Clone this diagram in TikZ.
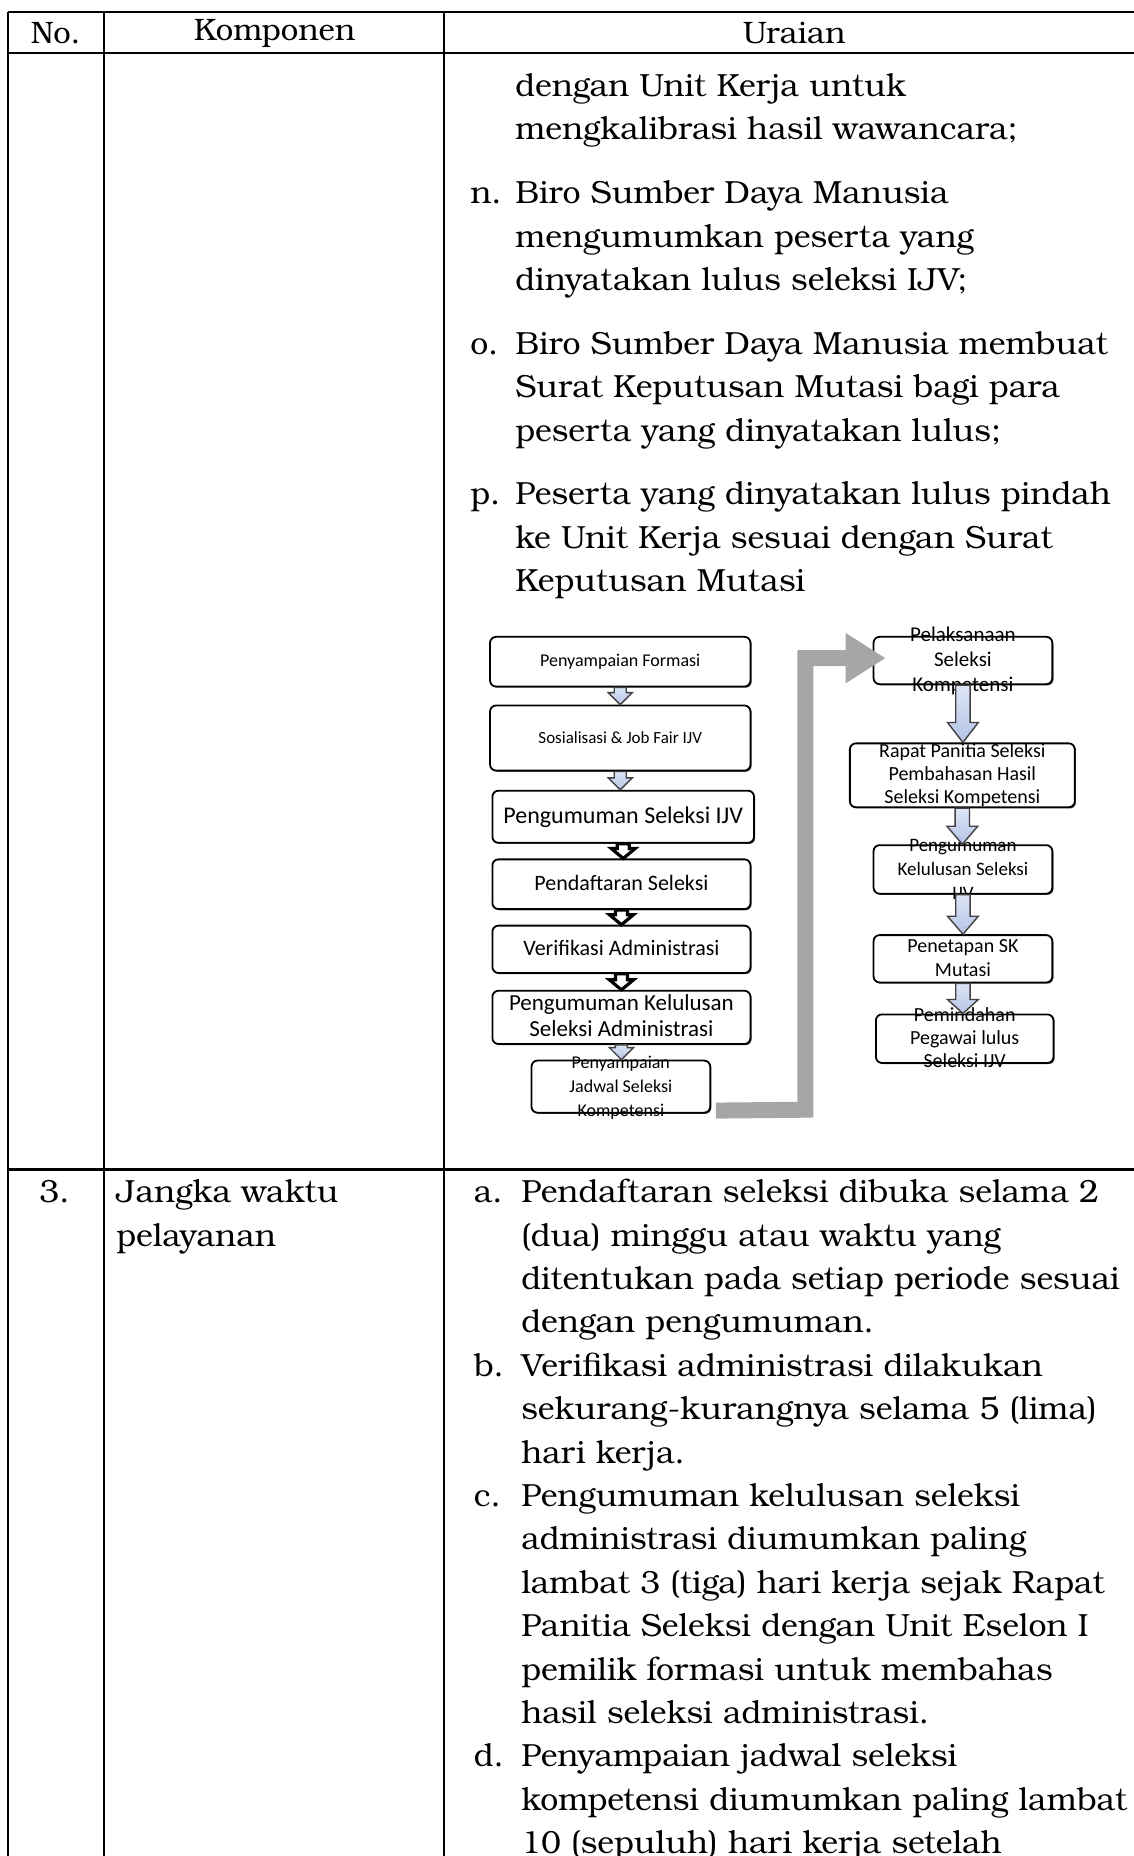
\documentclass[tikz,border=0pt]{standalone}
\usepackage{fontspec}
\newfontfamily\flowfont{Carlito}
\newfontfamily\bk{TeX Gyre Bonum}
\usetikzlibrary{calc,arrows.meta,shadows}

\definecolor{arrtop}{HTML}{DDE5F6}
\definecolor{arrbot}{HTML}{B4C3E6}
\definecolor{linkgray}{HTML}{A6A6A6}
\newcommand\px{0.5918pt}
\newcommand\ftxt[1]{\smash{\raisebox{-.3em}{\begin{tabular}{@{}c@{}}#1\end{tabular}}}}
% block arrow: style, from, to, shaft half width, head half width, head length
\newcommand\blockarr[6]{%
  \draw[#1] let \p1=(#2.south), \p2=(#3.north) in
    (\x1-#4,\y1) -- (\x1-#4,\y2+#6) -- (\x1-#5,\y2+#6) -- (\x1,\y2)
    -- (\x1+#5,\y2+#6) -- (\x1+#4,\y2+#6) -- (\x1+#4,\y1) -- cycle;}

\tikzset{
  grid/.style={line width=1.2pt},
  body/.style={inner sep=0pt, font=\bk\fontsize{16}{21.7}\selectfont},
  head/.style={inner sep=0pt, font=\bk\fontsize{15.5}{18}\selectfont},
  flowbox/.style={draw, rounded corners=3pt, line width=.9pt, fill=white, inner sep=0pt,
    drop shadow={shadow xshift=.6pt, shadow yshift=-.6pt, opacity=1, fill=black!70}},
  bx/.style 2 args={minimum width=#1*\px, minimum height=#2*\px},
  fs/.style 2 args={font=\flowfont\fontsize{#1}{#2}\selectfont},
  bluearr/.style={draw=black!75, line width=.7pt, top color=arrtop, bottom color=arrbot},
  blackarr/.style={draw=black, line width=1.6pt, fill=white},
  biglink/.style={draw=linkgray, line width=8pt, -{Triangle[length=20pt, width=23.7pt]}}
}

\begin{document}
\begin{tikzpicture}[x=0.5918pt, y=-0.5918pt]
\useasboundingbox (0,0) rectangle (958,1568);

% Table
\draw[grid] (7,10) -- (958,10);
\draw[grid] (7,45) -- (958,45);
\draw[grid] (7,988) -- (958,988);
\draw[grid] (7,10) -- (7,1568);
\draw[grid] (88,10) -- (88,1568);
\draw[grid] (375,10) -- (375,1568);

% Header
\node[head] (hno) at (47,28) {No.};
\node[head] (hkomp) at (232,28) {Komponen};
\node[head] (hurai) at (671,28) {Uraian};

% Row 2 text
\node[body, anchor=base west] (uraian2) at (397,81.5) {\begin{tabular}[t]{@{}p{22.5pt}@{}l@{}}
  & dengan Unit Kerja untuk\\
  & mengkalibrasi hasil wawancara;\\[10.2pt]
n. & Biro Sumber Daya Manusia\\
  & mengumumkan peserta yang\\
  & dinyatakan lulus seleksi IJV;\\[10.2pt]
o. & Biro Sumber Daya Manusia membuat\\
  & Surat Keputusan Mutasi bagi para\\
  & peserta yang dinyatakan lulus;\\[10.2pt]
p. & Peserta yang dinyatakan lulus pindah\\
  & ke Unit Kerja sesuai dengan Surat\\
  & Keputusan Mutasi
\end{tabular}};

% Flowchart, left column
\node[flowbox, bx={220}{42}, fs={9}{11}] (form) at (524,559) {\ftxt{Penyampaian Formasi}};
\node[flowbox, bx={220}{55}, fs={8.5}{10}] (sosial) at (524,623.5) {\ftxt{Sosialisasi \& Job Fair IJV}};
\node[flowbox, bx={221}{44}, fs={12}{14}] (umum) at (526.5,690) {\ftxt{Pengumuman Seleksi IJV}};
\node[flowbox, bx={218}{42}, fs={11}{13}] (daftar) at (525,747) {\ftxt{Pendaftaran Seleksi}};
\node[flowbox, bx={218}{40}, fs={11}{13}] (verif) at (525,802) {\ftxt{Verifikasi Administrasi}};
\node[flowbox, bx={218}{45}, fs={11.5}{13}] (lulusadm) at (525,859.5) {\ftxt{Pengumuman Kelulusan\\Seleksi Administrasi}};
\node[flowbox, bx={151}{44}, fs={9}{12}] (jadwal) at (524.5,918) {\ftxt{Penyampaian\\Jadwal Seleksi\\Kompetensi}};

% Flowchart, right column
\node[flowbox, bx={151}{40}, fs={10.5}{12.7}] (laksana) at (813.5,558) {\ftxt{Pelaksanaan\\Seleksi\\Kompetensi}};
\node[flowbox, bx={190}{54}, fs={10}{11.5}] (rapat) at (813,655) {\ftxt{Rapat Panitia Seleksi\\Pembahasan Hasil\\Seleksi Kompetensi}};
\node[flowbox, bx={151}{41}, fs={9.5}{12}] (lulusijv) at (813.5,734.5) {\ftxt{Pengumuman\\Kelulusan Seleksi\\IJV}};
\node[flowbox, bx={151}{40}, fs={10}{12}] (sk) at (813.5,810) {\ftxt{Penetapan SK\\Mutasi}};
\node[flowbox, bx={150}{41}, fs={10}{11.5}] (pindah) at (815,877.5) {\ftxt{Pemindahan\\Pegawai lulus\\Seleksi IJV}};

% Link between columns
\coordinate (gs) at ([xshift=4*\px, yshift=2.5*\px]jadwal.south east);
\coordinate (gc) at (680.4,937.5);
\coordinate (ge) at ([xshift=11*\px, yshift=2*\px]laksana.west);
\draw[biglink] (gs) -- (gc) |- (ge);

% Block arrows
\blockarr{bluearr}{form}{sosial}{3pt}{6pt}{6pt}
\blockarr{bluearr}{sosial}{umum}{3pt}{6pt}{6pt}
\blockarr{blackarr}{umum}{daftar}{3pt}{6pt}{5pt}
\blockarr{blackarr}{daftar}{verif}{3pt}{6pt}{5pt}
\blockarr{blackarr}{verif}{lulusadm}{3pt}{6pt}{5pt}
\blockarr{bluearr}{lulusadm}{jadwal}{3pt}{6pt}{6pt}
\blockarr{bluearr}{laksana}{rapat}{3.6pt}{7.7pt}{10pt}
\blockarr{bluearr}{rapat}{lulusijv}{3.6pt}{7.7pt}{9pt}
\blockarr{bluearr}{lulusijv}{sk}{3.6pt}{7.7pt}{9pt}
\blockarr{bluearr}{sk}{pindah}{3.6pt}{7.7pt}{7pt}

% Row 3
\node[body, anchor=base west] (no3) at (33,1016) {3.};
\node[body, anchor=base west] (komp3) at (98,1016) {\begin{tabular}[t]{@{}l@{}}Jangka waktu\\pelayanan\end{tabular}};
\node[body, anchor=base west] (uraian3) at (400,1016) {\begin{tabular}[t]{@{}p{23.7pt}@{}l@{}}
a. & Pendaftaran seleksi dibuka selama 2\\
  & (dua) minggu atau waktu yang\\
  & ditentukan pada setiap periode sesuai\\
  & dengan pengumuman.\\
b. & Verifikasi administrasi dilakukan\\
  & sekurang-kurangnya selama 5 (lima)\\
  & hari kerja.\\
c. & Pengumuman kelulusan seleksi\\
  & administrasi diumumkan paling\\
  & lambat 3 (tiga) hari kerja sejak Rapat\\
  & Panitia Seleksi dengan Unit Eselon I\\
  & pemilik formasi untuk membahas\\
  & hasil seleksi administrasi.\\
d. & Penyampaian jadwal seleksi\\
  & kompetensi diumumkan paling lambat\\
  & 10 (sepuluh) hari kerja setelah
\end{tabular}};
\end{tikzpicture}
\end{document}
